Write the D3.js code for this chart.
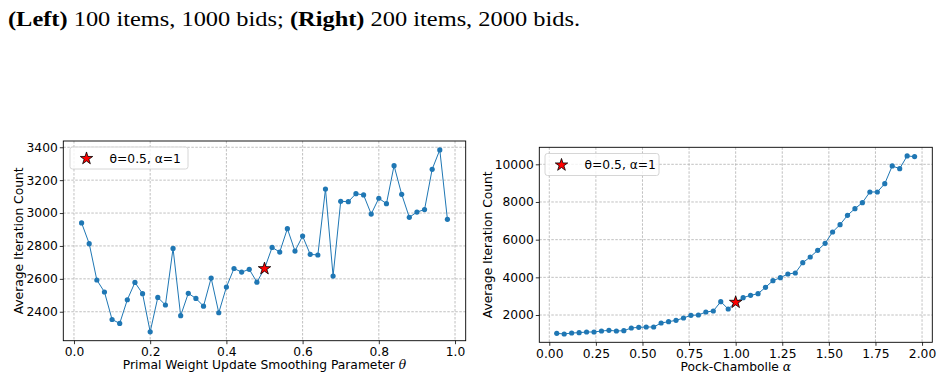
<!DOCTYPE html>
<html>
<head>
<meta charset="utf-8">
<script src="https://cdn.jsdelivr.net/npm/d3@7"></script>
<style>
  body { margin: 0; background: #fff; }
  svg text { font-family: "DejaVu Sans", sans-serif; fill: #000; }
  .caption { font-family: "Liberation Serif", "Times New Roman", serif; font-size: 21px; }
</style>
</head>
<body>
<script>
// Left panel: theta sweep
var thetaX = [0.02, 0.04, 0.06, 0.08, 0.10, 0.12, 0.14, 0.16, 0.18, 0.20,
              0.22, 0.24, 0.26, 0.28, 0.30, 0.32, 0.34, 0.36, 0.38, 0.40,
              0.42, 0.44, 0.46, 0.48, 0.50, 0.52, 0.54, 0.56, 0.58, 0.60,
              0.62, 0.64, 0.66, 0.68, 0.70, 0.72, 0.74, 0.76, 0.78, 0.80,
              0.82, 0.84, 0.86, 0.88, 0.90, 0.92, 0.94, 0.96, 0.98];
var thetaY = [2940, 2814, 2593, 2520, 2353, 2329, 2473, 2578, 2510, 2278,
              2487, 2441, 2785, 2376, 2512, 2481, 2434, 2605, 2394, 2550,
              2663, 2641, 2658, 2580, 2662, 2791, 2763, 2905, 2769, 2860,
              2749, 2745, 3146, 2617, 3071, 3069, 3118, 3110, 2994, 3090,
              3057, 3288, 3114, 2974, 3006, 3021, 3266, 3384, 2962];
var thetaTicksX = [0.0, 0.2, 0.4, 0.6, 0.8, 1.0];
var thetaTicksY = [2400, 2600, 2800, 3000, 3200, 3400];

// Right panel: alpha sweep
var alphaX = [0.04, 0.08, 0.12, 0.16, 0.20, 0.24, 0.28, 0.32, 0.36, 0.40,
              0.44, 0.48, 0.52, 0.56, 0.60, 0.64, 0.68, 0.72, 0.76, 0.80,
              0.84, 0.88, 0.92, 0.96, 1.00, 1.04, 1.08, 1.12, 1.16, 1.20,
              1.24, 1.28, 1.32, 1.36, 1.40, 1.44, 1.48, 1.52, 1.56, 1.60,
              1.64, 1.68, 1.72, 1.76, 1.80, 1.84, 1.88, 1.92, 1.96];
var alphaY = [1026, 991, 1044, 1062, 1097, 1097, 1150, 1186, 1150, 1168,
              1310, 1345, 1363, 1363, 1575, 1646, 1717, 1841, 1982, 2000,
              2159, 2212, 2708, 2319, 2673, 2920, 3044, 3133, 3469, 3823,
              3982, 4177, 4230, 4779, 5080, 5434, 5806, 6407, 6797, 7292,
              7646, 7965, 8531, 8531, 8974, 9912, 9770, 10443, 10408];
var alphaTicksX = [0.00, 0.25, 0.50, 0.75, 1.00, 1.25, 1.50, 1.75, 2.00];
var alphaTicksY = [2000, 4000, 6000, 8000, 10000];

// default point (star)
var thetaStar = [0.5, 2662];
var alphaStar = [1.0, 2673];
var legendText = "θ=0.5, α=1";

var width = 941;
var height = 379;
var fs = 12.3;

var svg = d3.select("body").append("svg")
    .attr("width", width)
    .attr("height", height);

svg.append("text")
    .attr("class", "caption")
    .attr("x", 8)
    .attr("y", 26)
    .attr("textLength", 572)
    .attr("lengthAdjust", "spacingAndGlyphs")
    .html('<tspan font-weight="bold">(Left)</tspan> 100 items, 1000 bids; <tspan font-weight="bold">(Right)</tspan> 200 items, 2000 bids.');

function drawPanel(cfg) {
  var g = svg.append("g");
  var x = d3.scaleLinear().domain(cfg.xDomain).range([cfg.left, cfg.right]);
  var y = d3.scaleLinear().domain(cfg.yDomain).range([cfg.bottom, cfg.top]);

  // grid
  g.selectAll(".gx").data(cfg.ticksX).enter().append("line")
    .attr("x1", function(d) { return x(d); }).attr("x2", function(d) { return x(d); })
    .attr("y1", cfg.top).attr("y2", cfg.bottom)
    .attr("stroke", "#b0b0b0").attr("stroke-width", 0.8).attr("stroke-dasharray", "2.5,1.5");
  g.selectAll(".gy").data(cfg.ticksY).enter().append("line")
    .attr("y1", function(d) { return y(d); }).attr("y2", function(d) { return y(d); })
    .attr("x1", cfg.left).attr("x2", cfg.right)
    .attr("stroke", "#b0b0b0").attr("stroke-width", 0.8).attr("stroke-dasharray", "2.5,1.5");

  // axes
  var xAxis = d3.axisBottom(x).tickValues(cfg.ticksX).tickFormat(d3.format(cfg.xFmt))
      .tickSizeInner(3.5).tickSizeOuter(0).tickPadding(3);
  var yAxis = d3.axisLeft(y).tickValues(cfg.ticksY).tickFormat(d3.format("d"))
      .tickSizeInner(3.5).tickSizeOuter(0).tickPadding(2);
  var gx = g.append("g").attr("transform", "translate(0," + cfg.bottom + ")").call(xAxis);
  var gy = g.append("g").attr("transform", "translate(" + cfg.left + ",0)").call(yAxis);
  [gx, gy].forEach(function(a) {
    a.select(".domain").remove();
    a.selectAll("text").attr("font-size", fs).attr("font-family", "DejaVu Sans").attr("fill", "#000");
    a.selectAll("line").attr("stroke", "#000").attr("stroke-width", 0.8);
  });

  // line + points
  var pts = cfg.xs.map(function(v, i) { return [v, cfg.ys[i]]; });
  g.append("path").datum(pts)
    .attr("fill", "none").attr("stroke", "#1f77b4").attr("stroke-width", 1)
    .attr("d", d3.line().x(function(d) { return x(d[0]); }).y(function(d) { return y(d[1]); }));
  g.selectAll(".pt").data(pts).enter().append("circle")
    .attr("cx", function(d) { return x(d[0]); })
    .attr("cy", function(d) { return y(d[1]); })
    .attr("r", 2.6).attr("fill", "#1f77b4");

  var star = d3.symbol().type(d3.symbolStar).size(48);
  g.append("path").attr("d", star())
    .attr("transform", "translate(" + x(cfg.star[0]) + "," + y(cfg.star[1]) + ")")
    .attr("fill", "#ff0000").attr("stroke", "#000").attr("stroke-width", 0.8);

  // frame
  g.append("rect").attr("x", cfg.left).attr("y", cfg.top)
    .attr("width", cfg.right - cfg.left).attr("height", cfg.bottom - cfg.top)
    .attr("fill", "none").attr("stroke", "#000").attr("stroke-width", 0.9);

  // legend
  var lg = cfg.legend;
  g.append("rect").attr("x", lg.x).attr("y", lg.y).attr("width", lg.w).attr("height", 22)
    .attr("rx", 2.5).attr("fill", "#fff").attr("fill-opacity", 0.8)
    .attr("stroke", "#cccccc").attr("stroke-width", 0.8);
  g.append("path").attr("d", star())
    .attr("transform", "translate(" + (lg.x + 16.5) + "," + (lg.y + 11.5) + ")")
    .attr("fill", "#ff0000").attr("stroke", "#000").attr("stroke-width", 0.8);
  g.append("text").attr("x", lg.x + 39.5).attr("y", lg.y + 11.5)
    .attr("dominant-baseline", "central").attr("font-size", fs)
    .text(legendText);

  // labels
  var xl = g.append("text").attr("x", (cfg.left + cfg.right) / 2).attr("y", cfg.bottom + 24.5)
    .attr("text-anchor", "middle").attr("dominant-baseline", "central").attr("font-size", fs);
  xl.append("tspan").text(cfg.xLabel);
  xl.append("tspan").attr("font-family", "DejaVu Serif").attr("font-style", "italic").text(cfg.xSym);

  g.append("text")
    .attr("transform", "translate(" + cfg.yLabelX + "," + ((cfg.top + cfg.bottom) / 2) + ") rotate(-90)")
    .attr("text-anchor", "middle").attr("dominant-baseline", "central").attr("font-size", fs)
    .text("Average Iteration Count");
}

drawPanel({
  xs: thetaX, ys: thetaY, star: thetaStar,
  ticksX: thetaTicksX, ticksY: thetaTicksY,
  xDomain: [-0.028, 1.028], yDomain: [2224, 3438],
  left: 63.3, right: 465.7, top: 141, bottom: 340.7,
  xFmt: ".1f", xLabel: "Primal Weight Update Smoothing Parameter ", xSym: "θ",
  yLabelX: 18.7,
  legend: { x: 70, y: 147, w: 118 }
});

drawPanel({
  xs: alphaX, ys: alphaY, star: alphaStar,
  ticksX: alphaTicksX, ticksY: alphaTicksY,
  xDomain: [-0.0536, 2.055], yDomain: [551, 10903],
  left: 539.3, right: 932.3, top: 147.3, bottom: 342.3,
  xFmt: ".2f", xLabel: "Pock-Chambolle ", xSym: "α",
  yLabelX: 487.5,
  legend: { x: 545, y: 153.5, w: 114 }
});
</script>
</body>
</html>
